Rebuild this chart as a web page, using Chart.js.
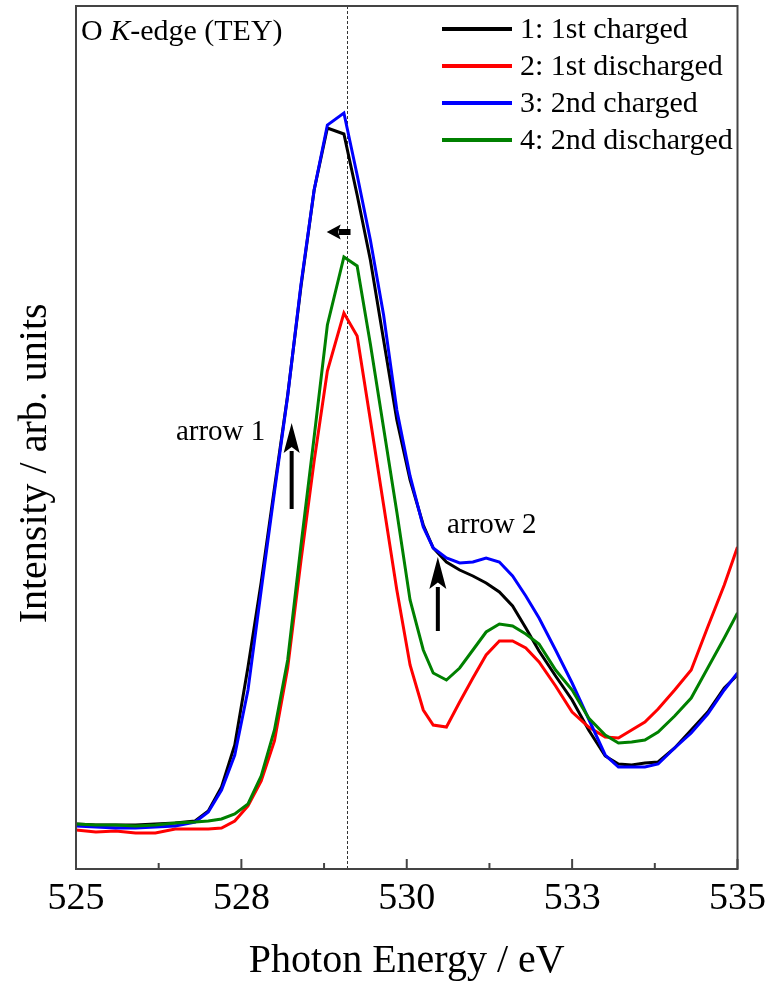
<!DOCTYPE html>
<html>
<head>
<meta charset="utf-8">
<title>O K-edge (TEY)</title>
<script src="https://cdn.jsdelivr.net/npm/chart.js@4.4.1/dist/chart.umd.min.js"></script>
<style>
  html, body { margin: 0; padding: 0; background: #fff; }
  #wrap { width: 773px; height: 981px; position: relative; }
</style>
</head>
<body>
<div id="wrap"><canvas id="xas-chart"></canvas></div>
<script>
// Photon energy grid (eV), shared by all four spectra
const energy = [
  525.0, 525.3, 525.6, 525.9, 526.2, 526.5, 526.8,
  527.0, 527.2, 527.4, 527.6, 527.8, 528.0, 528.2, 528.4, 528.6, 528.8,
  529.05, 529.25, 529.45, 529.65, 529.85, 530.05, 530.25,
  530.4, 530.6, 530.8, 531.0, 531.2, 531.4, 531.6, 531.8, 532.0,
  532.25, 532.5, 532.75, 533.0,
  533.2, 533.4, 533.6, 533.8,
  534.05, 534.3, 534.55, 534.8, 535.0
];

// Intensities (arb. units)
const charged1 = [
  0.45, 0.44, 0.44, 0.44, 0.45, 0.46, 0.48,
  0.58, 0.82, 1.24, 2.02, 2.87, 3.81, 4.74, 5.82, 6.79, 7.41,
  7.35, 6.74, 6.09, 5.29, 4.49, 3.89, 3.44,
  3.21, 3.07, 2.99, 2.93, 2.86, 2.77, 2.63, 2.41, 2.18,
  1.93, 1.69, 1.39, 1.13,
  1.05, 1.04, 1.06, 1.07,
  1.21, 1.39, 1.57, 1.81, 1.94
];
const discharged1 = [
  0.39, 0.37, 0.38, 0.36, 0.36, 0.40, 0.40,
  0.40, 0.41, 0.48, 0.63, 0.88, 1.28, 2.01, 3.08, 4.08, 4.98,
  5.56, 5.33, 4.49, 3.64, 2.79, 2.04, 1.59,
  1.44, 1.42, 1.67, 1.91, 2.14, 2.28, 2.28, 2.21, 2.07,
  1.83, 1.57, 1.42, 1.32,
  1.31, 1.39, 1.47, 1.60,
  1.79, 1.99, 2.42, 2.84, 3.22
];
const charged2 = [
  0.43, 0.42, 0.41, 0.41, 0.42, 0.43, 0.47,
  0.57, 0.79, 1.14, 1.79, 2.79, 3.77, 4.73, 5.84, 6.79, 7.44,
  7.56, 6.94, 6.29, 5.54, 4.59, 3.93, 3.42,
  3.21, 3.11, 3.06, 3.07, 3.11, 3.07, 2.93, 2.73, 2.51,
  2.19, 1.86, 1.50, 1.14,
  1.02, 1.02, 1.02, 1.05,
  1.21, 1.36, 1.55, 1.79, 1.96
];
const discharged2 = [
  0.45, 0.44, 0.44, 0.43, 0.44, 0.46, 0.47,
  0.48, 0.50, 0.55, 0.65, 0.93, 1.39, 2.09, 3.23, 4.32, 5.44,
  6.12, 6.03, 5.25, 4.41, 3.57, 2.69, 2.19,
  1.96, 1.89, 2.01, 2.19, 2.37, 2.45, 2.43, 2.35, 2.25,
  1.99, 1.79, 1.51, 1.34,
  1.26, 1.27, 1.29, 1.37,
  1.53, 1.71, 2.01, 2.31, 2.56
];

const seriesLabels = ['1: 1st charged', '2: 1st discharged', '3: 2nd charged', '4: 2nd discharged'];
const seriesColors = ['#000000', '#ff0000', '#0000ff', '#008000'];
const xTickLabels = ['525', '528', '530', '533', '535'];

// dashed guide line and the three arrows (data coordinates)
const guideEnergy = 529.1;
const arrows = [
  { from: [529.15, 6.37], to: [528.79, 6.37], head: 14, headW: 15, shaft: 6 },
  { from: [528.26, 3.60], to: [528.26, 4.46], head: 30, headW: 16, shaft: 4 },
  { from: [530.47, 2.38], to: [530.47, 3.12], head: 32, headW: 17, shaft: 4 }
];

const serif = '"Liberation Serif", "Times New Roman", serif';

function toPoints(values) {
  return values.map((v, i) => ({ x: energy[i], y: v }));
}

function drawArrow(ctx, x0, y0, x1, y1, head, headW, shaft) {
  const ang = Math.atan2(y1 - y0, x1 - x0);
  const len = Math.hypot(x1 - x0, y1 - y0);
  ctx.save();
  ctx.translate(x0, y0);
  ctx.rotate(ang);
  ctx.fillStyle = '#000';
  ctx.fillRect(0, -shaft / 2, len - head + 2, shaft);
  ctx.beginPath();
  ctx.moveTo(len, 0);
  ctx.lineTo(len - head, -headW / 2);
  ctx.lineTo(len - head * 0.8, 0);
  ctx.lineTo(len - head, headW / 2);
  ctx.closePath();
  ctx.fill();
  ctx.restore();
}

const decorations = {
  id: 'decorations',
  beforeDatasetsDraw(chart) {
    const { ctx, chartArea: a, scales: { x } } = chart;
    const gx = Math.round(x.getPixelForValue(guideEnergy)) + 0.5;
    ctx.save();
    ctx.strokeStyle = '#333';
    ctx.lineWidth = 1;
    ctx.setLineDash([3, 2]);
    ctx.beginPath();
    ctx.moveTo(gx, a.top);
    ctx.lineTo(gx, a.bottom);
    ctx.stroke();
    ctx.restore();
  },
  afterDatasetsDraw(chart) {
    const { ctx, chartArea: a, scales: { x, y } } = chart;
    ctx.save();

    // frame and inward ticks
    ctx.strokeStyle = '#444';
    ctx.lineWidth = 2;
    ctx.strokeRect(a.left, a.top, a.width, a.height);
    const step = x.options.ticks.stepSize / 2;
    for (let i = 0, v = x.min; v <= x.max + 1e-6; i++, v += step) {
      const px = x.getPixelForValue(v);
      ctx.beginPath();
      ctx.moveTo(px, a.bottom);
      ctx.lineTo(px, a.bottom - (i % 2 ? 6 : 10));
      ctx.stroke();
    }

    // arrows
    arrows.forEach(ar => {
      drawArrow(ctx,
        x.getPixelForValue(ar.from[0]), y.getPixelForValue(ar.from[1]),
        x.getPixelForValue(ar.to[0]), y.getPixelForValue(ar.to[1]),
        ar.head, ar.headW, ar.shaft);
    });

    // text labels
    ctx.fillStyle = '#000';
    ctx.textBaseline = 'alphabetic';
    ctx.font = '29px ' + serif;
    ctx.fillText('arrow 1', x.getPixelForValue(526.51), y.getPixelForValue(4.29));
    ctx.fillText('arrow 2', x.getPixelForValue(530.61), y.getPixelForValue(3.36));

    // "O K-edge (TEY)" with italic K
    let tx = a.left + 5;
    const ty = a.top + 34;
    const parts = [['O ', ''], ['K', 'italic '], ['-edge (TEY)', '']];
    parts.forEach(([txt, style]) => {
      ctx.font = style + '30px ' + serif;
      ctx.fillText(txt, tx, ty);
      tx += ctx.measureText(txt).width;
    });

    // legend
    ctx.font = '30px ' + serif;
    ctx.textBaseline = 'middle';
    chart.data.datasets.forEach((ds, i) => {
      const rowY = a.top + 23 + i * 37;
      ctx.fillStyle = ds.borderColor;
      ctx.fillRect(a.left + 366, rowY - 2, 70, 4);
      ctx.fillStyle = '#000';
      ctx.fillText(ds.label, a.left + 444, rowY + 1);
    });

    // y-axis title, sitting a little below the middle of the axis
    ctx.translate(35, a.top + a.height * 0.53);
    ctx.rotate(-Math.PI / 2);
    ctx.font = '40px ' + serif;
    ctx.textAlign = 'center';
    ctx.textBaseline = 'middle';
    ctx.fillText('Intensity / arb. units', 0, 0);

    ctx.restore();
  }
};

const ctx = document.getElementById('xas-chart').getContext('2d');
new Chart(ctx, {
  type: 'line',
  data: {
    datasets: [charged1, discharged1, charged2, discharged2].map((vals, i) => ({
      label: seriesLabels[i],
      data: toPoints(vals),
      borderColor: seriesColors[i],
      backgroundColor: seriesColors[i],
      borderWidth: 3,
      pointRadius: 0,
      tension: 0,
      fill: false,
      order: 4 - i
    }))
  },
  options: {
    responsive: true,
    maintainAspectRatio: false,
    animation: false,
    layout: { padding: { top: 6, right: 31, bottom: 0, left: 0 } },
    plugins: {
      legend: { display: false },
      tooltip: { enabled: false }
    },
    scales: {
      x: {
        type: 'linear',
        min: 525,
        max: 535,
        afterFit: s => { s.height = 112; },
        grid: { display: false, drawTicks: false },
        border: { display: false },
        ticks: {
          stepSize: 2.5,
          padding: 7,
          color: '#000',
          font: { family: serif, size: 38 },
          maxRotation: 0,
          callback: (v, i) => xTickLabels[i]
        },
        title: {
          display: true,
          text: 'Photon Energy / eV',
          color: '#000',
          font: { family: serif, size: 40, lineHeight: 1 },
          padding: { top: 0, bottom: 0 }
        }
      },
      y: {
        min: 0,
        max: 8.63,
        afterFit: s => { s.width = 76; },
        grid: { display: false, drawTicks: false },
        border: { display: false },
        ticks: { display: false },
        title: { display: false }
      }
    }
  },
  plugins: [decorations]
});
</script>
</body>
</html>
